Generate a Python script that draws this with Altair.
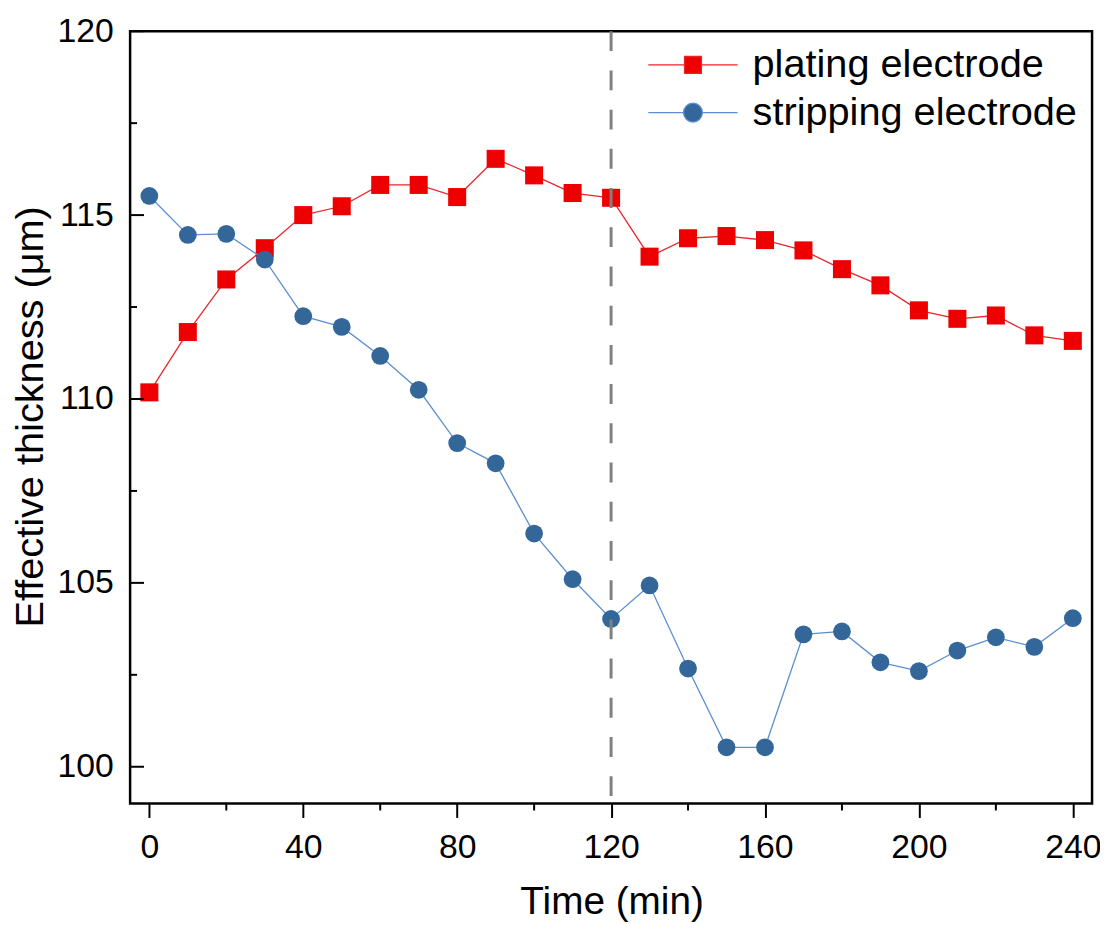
import altair as alt
import pandas as pd

# ---- data ----
time_min = [0, 10, 20, 30, 40, 50, 60, 70, 80, 90, 100, 110, 120,
            130, 140, 150, 160, 170, 180, 190, 200, 210, 220, 230, 240]
plating = [110.18, 111.82, 113.25, 114.10, 115.00, 115.24, 115.82, 115.82,
           115.49, 116.53, 116.08, 115.60, 115.47, 113.87, 114.37, 114.43,
           114.32, 114.04, 113.53, 113.09, 112.41, 112.18, 112.27, 111.73, 111.58]
stripping = [115.52, 114.46, 114.49, 113.79, 112.25, 111.96, 111.17, 110.25,
             108.80, 108.25, 106.34, 105.10, 104.02, 104.93, 102.67, 100.53,
             100.53, 103.60, 103.68, 102.84, 102.60, 103.16, 103.52, 103.26, 104.04]
series_names = ["plating electrode", "stripping electrode"]
x_major = [0, 40, 80, 120, 160, 200, 240]
x_minor = [20, 60, 100, 140, 180, 220]
y_major = [100, 105, 110, 115, 120]
y_minor = [102.5, 107.5, 112.5, 117.5]
divider_time = [120]

# ---- styles ----
FONT = "Liberation Sans"
RED_MARK, RED_LINE = "#EE0000", "#E8262A"
BLUE_MARK, BLUE_LINE = "#336699", "#5B8FD0"

df = pd.DataFrame({
    "time": time_min * 2,
    "value": plating + stripping,
    "series": [series_names[0]] * len(time_min) + [series_names[1]] * len(time_min),
})

x_scale = alt.Scale(domain=[-5, 245], nice=False, zero=False)
y_scale = alt.Scale(domain=[99, 120], nice=False, zero=False)

x_axis = alt.Axis(values=x_major, title="Time (min)", grid=False, domain=False,
                  ticks=True, tickSize=14, tickWidth=2, tickColor="black",
                  labelPadding=13, labelFontSize=34, labelColor="black",
                  titleFontSize=39, titleFontWeight="normal", titleColor="black",
                  titleX=485, titleY=111, titleBaseline="alphabetic")
y_axis = alt.Axis(values=y_major, title="Effective thickness (μm)", grid=False,
                  domain=False, ticks=False, labelPadding=17, labelFontSize=34,
                  labelColor="black", titleFontSize=40, titleFontWeight="normal",
                  titleColor="black", titleX=-88, titleY=388,
                  titleBaseline="alphabetic")

X = alt.X("time:Q", scale=x_scale, axis=x_axis)
Y = alt.Y("value:Q", scale=y_scale, axis=y_axis)

base = alt.Chart(df)
red_line = base.transform_filter(alt.datum.series == series_names[0]).mark_line(
    color=RED_LINE, strokeWidth=1.3).encode(x=X, y=Y)
red_pts = base.transform_filter(alt.datum.series == series_names[0]).mark_square(
    color=RED_MARK, size=330, opacity=1).encode(x=X, y=Y)
blue_line = base.transform_filter(alt.datum.series == series_names[1]).mark_line(
    color=BLUE_LINE, strokeWidth=1.3).encode(x=X, y=Y)
blue_pts = base.transform_filter(alt.datum.series == series_names[1]).mark_circle(
    color=BLUE_MARK, size=320, opacity=1).encode(x=X, y=Y)

# y ticks (inside the frame)
y_major_ticks = alt.Chart(pd.DataFrame({"value": y_major})).mark_rule(
    color="black", strokeWidth=2).encode(y=Y, x=alt.value(0), x2=alt.value(14))
y_minor_ticks = alt.Chart(pd.DataFrame({"value": y_minor})).mark_rule(
    color="black", strokeWidth=2).encode(y=Y, x=alt.value(0), x2=alt.value(7))
# x minor ticks (outside)
x_minor_ticks = alt.Chart(pd.DataFrame({"time": x_minor})).mark_rule(
    color="black", strokeWidth=2).encode(x=X, y=alt.value(778), y2=alt.value(785))

divider = alt.Chart(pd.DataFrame({"time": divider_time})).mark_rule(
    color="#808080", strokeWidth=3, strokeDash=[20, 19.5]).encode(x=X)

# legend (line + marker symbols)
sq_path = "M-5,0H-0.944M0.944,0H5M-0.944,-0.944H0.944V0.944H-0.944Z"
ci_path = ("M-5,0H-1.056M1.056,0H5M-1.056,0A1.056,1.056 0 1,0 1.056,0"
           "A1.056,1.056 0 1,0 -1.056,0Z")
leg = alt.Legend(orient="none", legendX=547, legendY=14, title=None,
                 labelFontSize=40, labelFont=FONT, labelColor="black",
                 labelLimit=600, labelOffset=40, rowPadding=8,
                 symbolSize=324, symbolStrokeWidth=1.3, padding=0)
legend_layer = alt.Chart(pd.DataFrame({"series": series_names})).transform_filter(
    "false").mark_point(filled=True, size=324, strokeWidth=1.3, opacity=1).encode(
    shape=alt.Shape("series:N", scale=alt.Scale(domain=series_names, range=[sq_path, ci_path]), legend=leg),
    fill=alt.Fill("series:N", scale=alt.Scale(domain=series_names, range=[RED_MARK, BLUE_MARK]), legend=leg),
    stroke=alt.Stroke("series:N", scale=alt.Scale(domain=series_names, range=[RED_LINE, BLUE_LINE]), legend=leg),
)

chart = alt.layer(
    red_line, red_pts, blue_line, blue_pts,
    y_major_ticks, y_minor_ticks, x_minor_ticks, divider, legend_layer,
).properties(
    width=969, height=778,
    autosize=alt.AutoSizeParams(type="none"),
    padding={"left": 123, "top": 20, "right": 8, "bottom": 122},
).configure(font=FONT).configure_view(stroke="black", strokeWidth=2.5)

chart.save("out.html", embed_options={"renderer": "svg", "actions": False})
